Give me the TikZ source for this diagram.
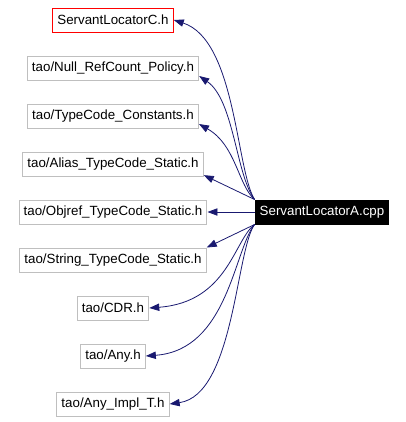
\documentclass[tikz,border=0pt]{standalone}
\usepackage{fontspec}
\setmainfont{Liberation Sans}
\usetikzlibrary{arrows.meta,positioning}
\definecolor{edgeblue}{HTML}{191970}
\definecolor{boxgray}{HTML}{BFBFBF}
\tikzstyle{file} = [rectangle, draw=boxgray, line width=0.75pt, minimum height=18pt, inner xsep=3.5pt, font=\fontsize{10}{12}\selectfont, on grid]
\tikzstyle{root} = [file, draw=red]
\tikzstyle{current} = [file, draw=black, fill=black, text=white]
\tikzstyle{line} = [draw=edgeblue, line width=0.6pt, -{Triangle[length=7.5pt,width=5.5pt]}]

\begin{document}
\begin{tikzpicture}[x=0.75pt, y=0.75pt, node distance=36pt]
        \useasboundingbox (0,0) rectangle (406,-422);
        \node[root]                       (slc) at (113,-20) {ServantLocatorC.h};
        \node[file, below=of slc]         (nrp) {tao/Null\_RefCount\_Policy.h};
        \node[file, below=of nrp]         (tcc) {tao/TypeCode\_Constants.h};
        \node[file, below=of tcc]         (ats) {tao/Alias\_TypeCode\_Static.h};
        \node[file, below=of ats]         (ots) {tao/Objref\_TypeCode\_Static.h};
        \node[file, below=of ots]         (sts) {tao/String\_TypeCode\_Static.h};
        \node[file, below=of sts]         (cdr) {tao/CDR.h};
        \node[file, below=of cdr]         (any) {tao/Any.h};
        \node[file, below=of any]         (ait) {tao/Any\_Impl\_T.h};
        \node[current]                    (sla) at (322,-212) {ServantLocatorA.cpp};

        \path[line] (sla.north west) .. controls (236,-170) and (236,-40) .. (slc.east);
        \path[line] (sla.north west) .. controls (236,-175) and (234,-100) .. ([yshift=-6pt]nrp.east);
        \path[line] (sla.north west) .. controls (238,-185) and (236,-145) .. ([yshift=-6pt]tcc.east);
        \path[line] (sla.north west) -- ([yshift=1pt]ats.south east);
        \path[line] (sla) -- (ots);
        \path[line] (sla.south west) -- (sts.north east);
        \path[line] (sla.south west) .. controls (234,-240) and (228,-302) .. (cdr.east);
        \path[line] (sla.south west) .. controls (234,-250) and (228,-350) .. (any.east);
        \path[line] (sla.south west) .. controls (236,-250) and (234,-395) .. (ait.east);
\end{tikzpicture}
\end{document}
